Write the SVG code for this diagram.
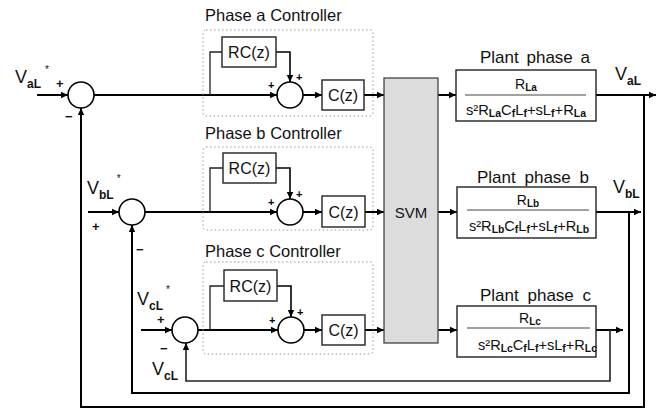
<svg xmlns="http://www.w3.org/2000/svg" width="670" height="414" viewBox="0 0 670 414">
<defs>
<marker id="ah" markerUnits="userSpaceOnUse" markerWidth="8" markerHeight="8" refX="7" refY="4" orient="auto">
<path d="M0,0.8 L7,4 L0,7.2 z" fill="#000"/>
</marker>
<style>
text{font-family:"Liberation Sans",Arial,sans-serif;fill:#111}
.thick{fill:none;stroke:#000;stroke-width:2}
.thin{fill:none;stroke:#222;stroke-width:1.3}
.box{fill:#fff;stroke:#222;stroke-width:1.4}
.dot{fill:none;stroke:#999;stroke-width:1;stroke-dasharray:1.5 2.5}
.sum{fill:#fff;stroke:#000;stroke-width:1.6}
.ttl{font-size:16.5px}
.lbl{font-size:17px}
.blk{font-size:16px}
.sign{font-size:13px;font-weight:bold}
.pl{font-size:11px;font-weight:bold;fill:#000}
.v{font-size:18px}
.sub{font-size:12px;font-weight:bold}
.frac{font-size:14px}
.fs{font-size:10px;font-weight:bold}
</style>
</defs>
<rect width="670" height="414" fill="#fff"/>

<g id="connectors">
<!-- phase a -->
<line class="thick" x1="37" y1="95" x2="68" y2="95" marker-end="url(#ah)"/>
<line class="thick" x1="94" y1="95" x2="277" y2="95" marker-end="url(#ah)"/>
<polyline class="thin" points="210,95 210,52 222,52"/>
<polyline class="thick" points="276,52 290,52 290,82" marker-end="url(#ah)" style="stroke-width:1.6"/>
<line class="thick" x1="303" y1="95" x2="322" y2="95" marker-end="url(#ah)"/>
<line class="thick" x1="364" y1="95" x2="384" y2="95" marker-end="url(#ah)"/>
<line class="thick" x1="438" y1="95" x2="456" y2="95" marker-end="url(#ah)"/>
<line class="thick" x1="596" y1="95" x2="656" y2="95" marker-end="url(#ah)"/>
<polyline class="thick" points="644,95 644,407 81,407 81,108" marker-end="url(#ah)"/>
<!-- phase b -->
<line class="thick" x1="88" y1="212" x2="119" y2="212" marker-end="url(#ah)"/>
<line class="thick" x1="145" y1="212" x2="277" y2="212" marker-end="url(#ah)"/>
<polyline class="thin" points="210,212 210,168 223,168"/>
<polyline class="thick" points="276,168 290,168 290,199" marker-end="url(#ah)" style="stroke-width:1.6"/>
<line class="thick" x1="303" y1="212" x2="322" y2="212" marker-end="url(#ah)"/>
<line class="thick" x1="365" y1="212" x2="384" y2="212" marker-end="url(#ah)"/>
<line class="thick" x1="438" y1="212" x2="457" y2="212" marker-end="url(#ah)"/>
<line class="thick" x1="596" y1="212" x2="641" y2="212" marker-end="url(#ah)"/>
<polyline class="thick" points="629,212 629,393 132,393 132,225" marker-end="url(#ah)"/>
<!-- phase c -->
<line class="thick" x1="141" y1="330" x2="172" y2="330" marker-end="url(#ah)"/>
<line class="thick" x1="198" y1="330" x2="278" y2="330" marker-end="url(#ah)"/>
<polyline class="thin" points="210,330 210,286 224,286"/>
<polyline class="thick" points="277,286 291,286 291,317" marker-end="url(#ah)" style="stroke-width:1.6"/>
<line class="thick" x1="304" y1="330" x2="322" y2="330" marker-end="url(#ah)"/>
<line class="thick" x1="365" y1="330" x2="384" y2="330" marker-end="url(#ah)"/>
<line class="thick" x1="438" y1="330" x2="457" y2="330" marker-end="url(#ah)"/>
<line class="thick" x1="596" y1="330" x2="623" y2="330" marker-end="url(#ah)"/>
<polyline class="thin" points="610,330 610,381 186,381 186,343" marker-end="url(#ah)" style="stroke-width:1.6"/>
</g>

<g id="ctrl-a">
<rect class="dot" x="203" y="30" width="170" height="86" rx="3"/>
<text class="ttl" x="205" y="21">Phase a Controller</text>
</g>
<g id="ctrl-b">
<rect class="dot" x="203" y="147" width="170" height="83" rx="3"/>
<text class="ttl" x="205" y="139">Phase b Controller</text>
</g>
<g id="ctrl-c">
<rect class="dot" x="203" y="262" width="170" height="92" rx="3"/>
<text class="ttl" x="205" y="257">Phase c Controller</text>
</g>

<g id="in-a">
<text x="15" y="83"><tspan class="v">V</tspan><tspan class="sub" dy="5">aL</tspan><tspan font-size="10" dx="4" dy="-15">*</tspan></text>
<text class="sign" x="56" y="88">+</text>
<text class="sign" x="65" y="121">−</text>
</g>
<g id="sum-a1"><circle class="sum" cx="81" cy="95" r="13"/></g>
<g id="rc-a"><rect class="box" x="222" y="37" width="54" height="30"/><text class="blk" x="249" y="58" text-anchor="middle">RC(z)</text></g>
<g id="sum-a2"><circle class="sum" cx="290" cy="95" r="13"/>
<text class="pl" x="296" y="81">+</text><text class="pl" x="268" y="89">+</text></g>
<g id="c-a"><rect class="box" x="322" y="80" width="42" height="30"/><text class="blk" x="343" y="101" text-anchor="middle">C(z)</text></g>

<g id="in-b">
<text x="87" y="194"><tspan class="v">V</tspan><tspan class="sub" dy="5">bL</tspan><tspan font-size="10" dx="3" dy="-17">*</tspan></text>
<text class="sign" x="92" y="231">+</text>
<text class="sign" x="136" y="254">−</text>
</g>
<g id="sum-b1"><circle class="sum" cx="132" cy="212" r="13"/></g>
<g id="rc-b"><rect class="box" x="223" y="153" width="53" height="30"/><text class="blk" x="249.5" y="174" text-anchor="middle">RC(z)</text></g>
<g id="sum-b2"><circle class="sum" cx="290" cy="212" r="13"/>
<text class="pl" x="296" y="198">+</text><text class="pl" x="268" y="206">+</text></g>
<g id="c-b"><rect class="box" x="322" y="196" width="43" height="31"/><text class="blk" x="343.5" y="218" text-anchor="middle">C(z)</text></g>

<g id="in-c">
<text x="137" y="305"><tspan class="v">V</tspan><tspan class="sub" dy="5">cL</tspan><tspan font-size="10" dx="3" dy="-17">*</tspan></text>
<text class="sign" x="157" y="324">+</text>
<text class="sign" x="160" y="353">−</text>
<text x="152" y="375"><tspan class="v">V</tspan><tspan class="sub" dy="5">cL</tspan></text>
</g>
<g id="sum-c1"><circle class="sum" cx="185" cy="330" r="13"/></g>
<g id="rc-c"><rect class="box" x="224" y="270" width="53" height="31"/><text class="blk" x="250.5" y="292" text-anchor="middle">RC(z)</text></g>
<g id="sum-c2"><circle class="sum" cx="291" cy="330" r="13"/>
<text class="pl" x="297" y="316">+</text><text class="pl" x="269" y="324">+</text></g>
<g id="c-c"><rect class="box" x="322" y="315" width="43" height="30"/><text class="blk" x="343.5" y="336" text-anchor="middle">C(z)</text></g>

<g id="svm">
<rect x="384" y="78" width="54" height="265" fill="#dcdcdc" stroke="#444" stroke-width="1.3"/>
<text x="411" y="218" font-size="15" text-anchor="middle">SVM</text>
</g>

<g id="plant-a">
<text class="lbl" x="480" y="63" word-spacing="3">Plant phase a</text>
<rect class="box" x="456" y="70" width="140" height="51"/>
<line x1="465" y1="95" x2="586" y2="95" stroke="#444" stroke-width="1.2"/>
<text class="frac" x="526" y="89" text-anchor="middle">R<tspan class="fs" dy="2">La</tspan></text>
<text class="frac" x="466" y="115" textLength="120" lengthAdjust="spacingAndGlyphs">s²R<tspan class="fs" dy="2">La</tspan><tspan dy="-2">C</tspan><tspan class="fs" dy="2">f</tspan><tspan dy="-2">L</tspan><tspan class="fs" dy="2">f</tspan><tspan dy="-2">+sL</tspan><tspan class="fs" dy="2">f</tspan><tspan dy="-2">+R</tspan><tspan class="fs" dy="2">La</tspan></text>
<text x="615" y="80"><tspan class="v">V</tspan><tspan class="sub" dy="5">aL</tspan></text>
</g>

<g id="plant-b">
<text class="lbl" x="477" y="183" word-spacing="4">Plant phase b</text>
<rect class="box" x="457" y="187" width="139" height="51"/>
<line x1="467" y1="210" x2="589" y2="210" stroke="#444" stroke-width="1.2"/>
<text class="frac" x="528" y="205" text-anchor="middle">R<tspan class="fs" dy="2">Lb</tspan></text>
<text class="frac" x="469" y="231" textLength="120" lengthAdjust="spacingAndGlyphs">s²R<tspan class="fs" dy="2">Lb</tspan><tspan dy="-2">C</tspan><tspan class="fs" dy="2">f</tspan><tspan dy="-2">L</tspan><tspan class="fs" dy="2">f</tspan><tspan dy="-2">+sL</tspan><tspan class="fs" dy="2">f</tspan><tspan dy="-2">+R</tspan><tspan class="fs" dy="2">Lb</tspan></text>
<text x="613" y="193"><tspan class="v">V</tspan><tspan class="sub" dy="5">bL</tspan></text>
</g>

<g id="plant-c">
<text class="lbl" x="480" y="301" word-spacing="4">Plant phase c</text>
<rect class="box" x="457" y="306" width="139" height="51"/>
<line x1="467" y1="328" x2="590" y2="328" stroke="#444" stroke-width="1.2"/>
<text class="frac" x="530" y="323" text-anchor="middle">R<tspan class="fs" dy="2">Lc</tspan></text>
<text class="frac" x="478" y="350" textLength="119" lengthAdjust="spacingAndGlyphs">s²R<tspan class="fs" dy="2">Lc</tspan><tspan dy="-2">C</tspan><tspan class="fs" dy="2">f</tspan><tspan dy="-2">L</tspan><tspan class="fs" dy="2">f</tspan><tspan dy="-2">+sL</tspan><tspan class="fs" dy="2">f</tspan><tspan dy="-2">+R</tspan><tspan class="fs" dy="2">Lc</tspan></text>
</g>
</svg>
